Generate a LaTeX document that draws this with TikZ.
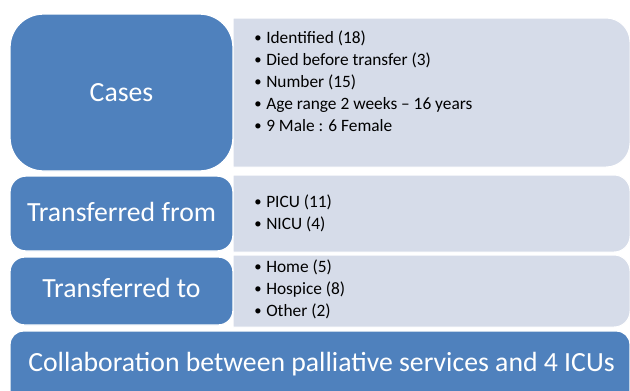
\documentclass[tikz,border=0pt]{standalone}
\usepackage{fontspec}
\setmainfont{Carlito}
\definecolor{caseblue}{RGB}{79,129,189}
\definecolor{caselight}{RGB}{214,220,233}
\tikzset{
  head/.style={fill=caseblue, draw=white, line width=1pt},
  body/.style={fill=caselight, draw=white, line width=0.75pt},
  headtext/.style={text=white, font=\fontsize{20.8}{25}\selectfont, inner sep=0pt, anchor=base},
  itemtext/.style={font=\fontsize{13}{15}\selectfont, inner sep=0pt, anchor=base west}
}
\newcommand{\bul}{\makebox[9pt][l]{\raisebox{0.4pt}{\fontsize{11}{11}\selectfont•}}}
\begin{document}
\begin{tikzpicture}[x=0.75pt,y=0.75pt,yscale=-1,xscale=1]
    \useasboundingbox (0,0) rectangle (630,390);
    % light panels, right corners rounded
    \draw [body] (233,18) [rounded corners=18] -- (630,18) -- (630,167) [sharp corners] -- (233,167) -- cycle;
    \draw [body] (233,175) [rounded corners=12] -- (630,175) -- (630,252) [sharp corners] -- (233,252) -- cycle;
    \draw [body] (233,255) [rounded corners=12] -- (630,255) -- (630,327) [sharp corners] -- (233,327) -- cycle;
    % blue heads
    \draw [head, rounded corners=25] (10,14) rectangle (233,171);
    \draw [head, rounded corners=12] (10,176) rectangle (233,251);
    \draw [head, rounded corners=11] (10,257) rectangle (233,325);
    \draw [head, rounded corners=10] (10,331) rectangle (630,420);
    % head texts
    \node [headtext] (cases) at (121.5,101) {Cases};
    \node [headtext] (from) at (121.5,221) {Transferred from};
    \node [headtext] (to) at (121.5,297.7) {Transferred to};
    \node [headtext] (collab) at (321.5,371.7) {Collaboration between palliative services and 4 ICUs};
    % items
    \node [itemtext] (identified) at (254,43.5) {\bul Identified (18)};
    \node [itemtext] (died) at (254,65.5) {\bul Died before transfer (3)};
    \node [itemtext] (number) at (254,87.5) {\bul Number (15)};
    \node [itemtext] (age) at (254,109.5) {\bul Age range 2 weeks – 16 years};
    \node [itemtext] (sex) at (254,131.5) {\bul 9 Male : 6 Female};
    \node [itemtext] (picu) at (254,207.3) {\bul PICU (11)};
    \node [itemtext] (nicu) at (254,229.3) {\bul NICU (4)};
    \node [itemtext] (home) at (254,272.3) {\bul Home (5)};
    \node [itemtext] (hospice) at (254,294.3) {\bul Hospice (8)};
    \node [itemtext] (other) at (254,316.3) {\bul Other (2)};
\end{tikzpicture}
\end{document}
